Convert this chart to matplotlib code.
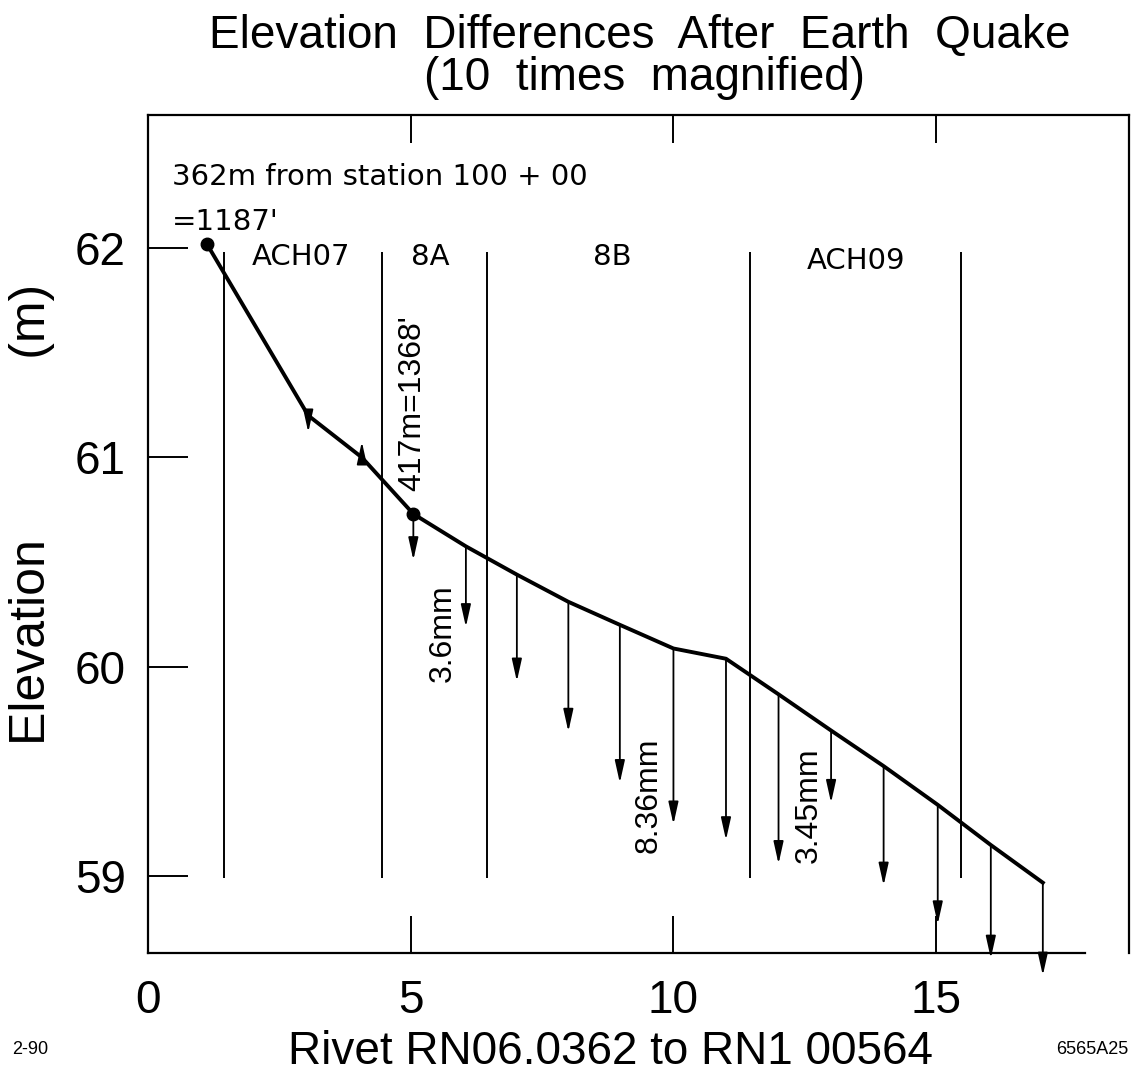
import matplotlib.pyplot as plt
from matplotlib.patches import ArrowStyle
import numpy as np

# rivet positions and elevations
rivet_x = [1.12, 3.05, 4.07, 5.05, 6.05, 7.02, 8.0, 8.98, 10.0, 11.0, 12.0, 13.0, 14.0, 15.03, 16.04, 17.03]
elev = [62.02, 61.20, 61.00, 60.73, 60.575, 60.44, 60.31, 60.20, 60.087, 60.038, 59.868, 59.695,
        59.525, 59.34, 59.148, 58.968]
# arrow shift (10x magnified), None = no arrow
shift = [None, -0.08, 0.075, -0.22, -0.385, -0.51, -0.62, -0.755, -0.84, -0.866, -0.81, -0.345,
         -0.57, -0.57, -0.542, -0.443]
dots = [0, 3]

bounds = [1.45, 4.45, 6.46, 11.46, 15.47]
sections = ["ACH07", "8A", "8B", "ACH09"]
section_x = [2.92, 5.37, 8.83, 13.47]
section_y = [61.958, 61.958, 61.958, 61.94]

notes = ["417m=1368'", "3.6mm", "8.36mm", "3.45mm"]
note_x = [5.02, 5.61, 9.53, 12.57]
note_y = [61.26, 60.16, 59.387, 59.34]

xticks = [0, 5, 10, 15]
yticks = [59, 60, 61, 62]

helv = ["Liberation Sans", "DejaVu Sans"]

fig = plt.figure(figsize=(11.31, 10.81), dpi=100)
ax = fig.add_axes([148 / 1131, 1 - 953 / 1081, (1129 - 148) / 1131, (953 - 115) / 1081])
ax.set_xlim(0, 18.67)
ax.set_ylim(58.632, 62.636)

ax.plot(rivet_x, elev, color="black", lw=2.8, zorder=3)
ax.plot([rivet_x[i] for i in dots], [elev[i] for i in dots], "o", color="black", ms=9, zorder=4)

ax.vlines(bounds, 58.99, 61.98, color="black", lw=1.4)

style = ArrowStyle("-|>", head_length=0.9, head_width=0.2)
for xi, yi, d in zip(rivet_x, elev, shift):
    if d is None:
        continue
    ax.annotate("", xy=(xi, yi + d), xytext=(xi, yi),
                arrowprops=dict(arrowstyle=style, mutation_scale=15, lw=1.3, color="black",
                                shrinkA=0, shrinkB=0),
                annotation_clip=False, zorder=2)

for name, sx, sy in zip(sections, section_x, section_y):
    ax.text(sx, sy, name, ha="center", va="center", fontsize=21, family="DejaVu Sans")

ax.text(0.45, 62.30, "362m from station 100 + 00", fontsize=21, family="DejaVu Sans", va="baseline")
ax.text(0.45, 62.086, "=1187'", fontsize=21, family="DejaVu Sans", va="baseline")

for t, nx, ny in zip(notes, note_x, note_y):
    ax.text(nx, ny, t, rotation=90, ha="center", va="center", fontsize=23, family=helv)

# frame and ticks
for s in ax.spines.values():
    s.set_linewidth(1.6)
ax.spines["bottom"].set_bounds(0, 17.83)
ax.set_xticks(xticks)
ax.set_yticks(yticks)
ax.tick_params(axis="x", direction="in", top=True, length=27, width=1.4, pad=19, labelsize=33)
ax.tick_params(axis="y", direction="in", length=29, width=1.4, pad=16, labelsize=33)
for t in ax.xaxis.get_major_ticks():
    t.tick2line.set_markersize(20)
for lab in ax.get_xticklabels() + ax.get_yticklabels():
    lab.set_family(helv)

fig.text(640 / 1131, 1 - 48 / 1081, "Elevation  Differences  After  Earth  Quake",
         ha="center", va="baseline", fontsize=33, family=helv)
fig.text(645 / 1131, 1 - 90 / 1081, "(10  times  magnified)",
         ha="center", va="baseline", fontsize=33, family=helv)
fig.text(32 / 1131, 1 - 514 / 1081, "Elevation" + " " * 13 + "(m)", rotation=90,
         ha="center", va="center", fontsize=36, family=helv)
fig.text(611 / 1131, 1 - 1052 / 1081, "Rivet RN06.0362 to RN1 00564",
         ha="center", va="center", fontsize=33, family=helv)
fig.text(12 / 1131, 1 - 1050 / 1081, "2-90", ha="left", va="center", fontsize=13, family=helv)
fig.text(1128 / 1131, 1 - 1050 / 1081, "6565A25", ha="right", va="center", fontsize=13, family=helv)

fig.savefig("out.png", dpi=100)
